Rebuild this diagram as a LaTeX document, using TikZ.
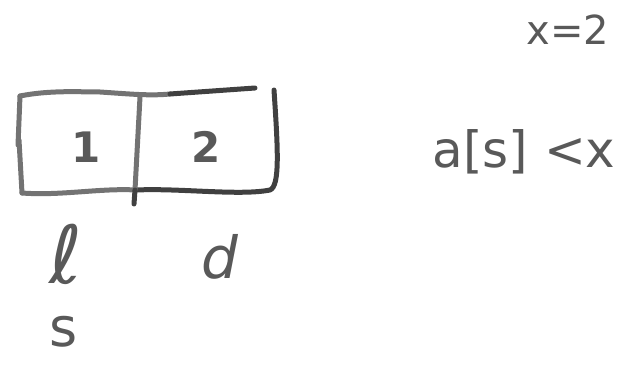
\documentclass[tikz,border=0pt]{standalone}
\usepackage{fontspec}
\setmainfont{DejaVu Sans}
\begin{document}
\begin{tikzpicture}[x=1pt,y=-1pt,
  stroke/.style={line width=5pt,line cap=round,line join=round},
  light/.style={stroke,draw=black!55},
  dark/.style={stroke,draw=black!75},
  hand/.style={text=black!65,inner sep=0pt,anchor=base}]
\useasboundingbox (0,0) rectangle (641,366);
% box
\draw[light] (22,193) .. controls (60,196) and (100,188) .. (136,190);
\draw[dark] (136,190) .. controls (180,188) and (240,196) .. (270,190) .. controls (280,186) and (278,150) .. (274,90);
\draw[light] (20,96) .. controls (50,90) and (80,92) .. (100,92) .. controls (130,94) and (150,96) .. (170,94);
\draw[dark] (170,94) -- (255,88);
\draw[light] (20,96) -- (18,145);
\draw[light] (19,140) -- (22,193);
\draw[light] (140,97) -- (135,190);
\draw[dark] (135,190) -- (134,204);
% texts
\node[hand,font=\fontsize{42}{42}\bfseries\selectfont] (one) at (86,163) {1};
\node[hand,font=\fontsize{42}{42}\bfseries\selectfont] (two) at (206,163) {2};
\node[hand,font=\fontsize{80}{80}\selectfont] (l) at (66,284) {ℓ};
\node[hand,font=\fontsize{58}{58}\selectfont] (d) at (220,279) {\itshape d};
\node[hand,font=\fontsize{54}{54}\selectfont] (s) at (64,347) {s};
\node[hand,font=\fontsize{40}{40}\selectfont] (xeq) at (568,45) {x=2};
\node[hand,font=\fontsize{50}{50}\selectfont] (cond) at (524,168) {a[s] <x};
\end{tikzpicture}
\end{document}
